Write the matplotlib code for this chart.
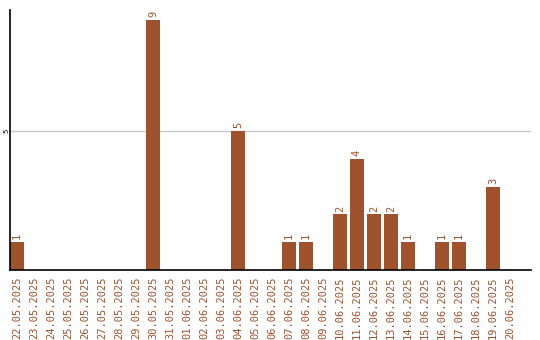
import datetime
import matplotlib
matplotlib.use("Agg")
import matplotlib.pyplot as plt

# data
start = datetime.date(2025, 5, 22)
dates = [(start + datetime.timedelta(days=i)).strftime("%d.%m.%Y") for i in range(30)]
counts = {
    "22.05.2025": 1, "30.05.2025": 9, "04.06.2025": 5, "07.06.2025": 1,
    "08.06.2025": 1, "10.06.2025": 2, "11.06.2025": 4, "12.06.2025": 2,
    "13.06.2025": 2, "14.06.2025": 1, "16.06.2025": 1, "17.06.2025": 1,
    "19.06.2025": 3,
}
values = [counts.get(d, 0) for d in dates]

brown = "#A0522D"

fig = plt.figure(figsize=(5.4, 3.4), dpi=100)
ax = fig.add_axes([10 / 540, 70 / 340, 521 / 540, 260 / 340])

x = list(range(len(dates)))
ax.bar(x, values, width=0.82, color=brown, zorder=2)
for xi, v in zip(x, values):
    if v > 0:
        ax.text(xi, v + 0.1, str(v), rotation=90, ha="center", va="bottom",
                color=brown, fontsize=7.5, family="DejaVu Sans Mono")

ax.set_xlim(-0.41, 30.24)
ax.set_ylim(0, 9.35)
ax.axhline(5, color="#c8c8c8", lw=1, zorder=1)

ax.set_yticks([5])
ax.set_yticklabels(["5"], rotation=90, va="center", fontsize=5)
ax.tick_params(axis="y", length=0, pad=0.5)
ax.set_xticks(x)
ax.set_xticklabels(dates, rotation=90, color=brown, fontsize=7.5,
                   family="DejaVu Sans Mono")
ax.tick_params(axis="x", length=0, pad=5)

for s in ["top", "right"]:
    ax.spines[s].set_visible(False)
ax.spines["left"].set_linewidth(1.2)
ax.spines["bottom"].set_linewidth(1.2)

fig.savefig("out.png", dpi=100)
